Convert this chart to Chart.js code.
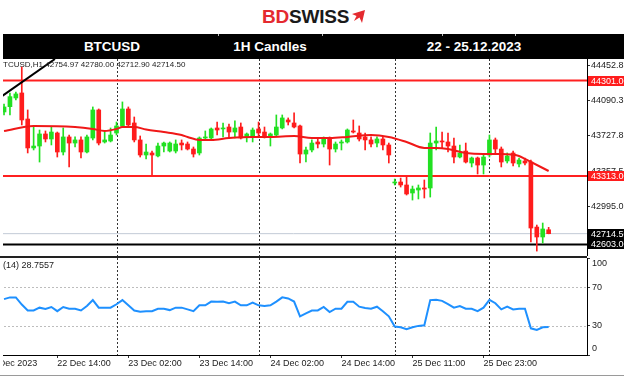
<!DOCTYPE html>
<html><head><meta charset="utf-8">
<script src="https://cdn.jsdelivr.net/npm/chart.js@4.4.1/dist/chart.umd.min.js"></script>
<style>
html,body{margin:0;padding:0;background:#fff;}
#wrap{position:relative;width:624px;height:380px;overflow:hidden;background:#fff;font-family:"Liberation Sans",Arial,sans-serif;}
.cell{position:absolute;top:34px;height:25px;line-height:25px;color:#fff;font-weight:bold;font-size:13.5px;transform:translateX(-50%);white-space:nowrap;}
.gap{position:absolute;top:34px;width:1px;height:2px;background:#bbb;}
canvas{position:absolute;left:0;}
</style></head><body>
<div id="wrap">
  <div style="position:absolute;left:262px;top:7px;font-weight:bold;font-size:19px;line-height:19px;letter-spacing:-0.2px;white-space:nowrap"><span style="color:#e42a2f">BD</span><span style="color:#1a1a1a">SWISS</span></div>
  <svg style="position:absolute;left:351px;top:10px" width="15" height="14" viewBox="0 0 15 14"><polygon points="1,4 14,0 11,13 8.5,7.5 3,11 5.5,6" fill="#e42a2f"/></svg>
  <div style="position:absolute;left:3px;top:34px;width:621px;height:25px;background:#000"></div>
  <div class="gap" style="left:218px"></div><div class="gap" style="left:322px"></div><div class="gap" style="left:442px"></div><div class="gap" style="left:515px"></div>
  <div class="cell" style="left:112px">BTCUSD</div>
  <div class="cell" style="left:270px">1H Candles</div>
  <div class="cell" style="left:474px">22 - 25.12.2023</div>
  <canvas id="main" width="624" height="197" style="top:59px"></canvas>
  <canvas id="rsi" width="624" height="124" style="top:256px"></canvas>
  <div style="position:absolute;left:0;top:375px;width:624px;height:1px;background:#9a9a9a"></div>
</div>
<script>
// ---- data ----
const barOpen = [43976,44031,44121,44173,43903,43603,43623,43748,43696,43758,
 43561,43717,43654,43686,43561,43706,43997,43665,43675,43758,
 43831,44007,43862,43686,43530,43551,43520,43623,43571,43571,
 43654,43644,43592,43551,43706,43706,43810,43800,43820,43768,
 43820,43717,43717,43800,43768,43727,43737,43810,43893,43862,
 43831,43540,43582,43665,43644,43696,43592,43654,43665,43779,
 43758,43717,43686,43654,43696,43634,43240,43250,43219,43136,
 43167,43188,43188,43654,43675,43665,43623,43509,43571,43447,
 43499,43426,43530,43686,43592,43468,43551,43437,43468,43457,
 42783,42680,42754.97];
const barHigh = [44059,44173,44183,44443,43997,43820,43789,43779,43820,43768,
 43810,43737,43717,43717,43737,44028,44007,43768,43810,43872,
 44080,44028,43924,43727,43644,43571,43654,43665,43665,43686,
 43686,43665,43613,43717,43779,43810,43872,43862,43851,43883,
 43862,43758,43810,43872,43820,43758,43945,43945,43914,43966,
 43841,43613,43686,43696,43717,43717,43665,43686,43800,43893,
 43831,43758,43717,43717,43717,43654,43281,43291,43302,43208,
 43219,43271,43758,43820,43768,43758,43706,43634,43654,43509,
 43509,43530,43737,43706,43613,43551,43571,43499,43499,43478,
 42804,42825,42780.00];
const barLow = [43945,43945,44100,43841,43551,43582,43457,43665,43634,43509,
 43530,43406,43613,43499,43551,43686,43634,43654,43665,43737,
 43820,43820,43665,43509,43488,43320,43509,43561,43561,43551,
 43582,43582,43509,43530,43686,43696,43737,43717,43717,43706,
 43696,43665,43665,43717,43706,43623,43727,43800,43841,43810,
 43447,43457,43561,43603,43613,43426,43561,43582,43654,43758,
 43675,43582,43613,43613,43582,43447,43219,43198,43115,43063,
 43074,43084,43094,43582,43603,43561,43447,43499,43447,43406,
 43333,43333,43509,43551,43406,43447,43416,43406,43426,42628,
 42534,42617,42712.90];
const barClose = [44028,44135,44163,43893,43603,43623,43748,43696,43768,43561,
 43717,43654,43686,43561,43717,43997,43654,43686,43737,43831,
 44007,43841,43686,43530,43561,43530,43623,43654,43654,43644,
 43634,43592,43540,43706,43717,43800,43789,43810,43768,43810,
 43706,43748,43789,43758,43727,43748,43820,43914,43872,43820,
 43540,43582,43654,43644,43696,43592,43644,43665,43789,43768,
 43696,43686,43644,43696,43634,43530,43250,43219,43126,43177,
 43188,43177,43654,43675,43665,43623,43509,43551,43457,43499,
 43426,43509,43686,43592,43457,43520,43447,43478,43447,42773,
 42680,42763,42714.50];
const maBars   = [0,5,12,15,17,19,20,22,24,27,30,31,33,35,38,42,45,49,52,55,58,62,65,68,71,73,75,78,81,84,87,88,92];
const maValues = [43779,43831,43820,43800,43779,43800,43820,43820,43794,43768,43737,43717,43686,43686,43706,43717,43717,43727,43706,43706,43717,43737,43717,43665,43603,43603,43592,43551,43540,43540,43520,43489,43364];
const rsiValues = [57.6,59.4,59.4,52,45.9,45.9,48.8,47.5,49.5,45.2,
 49.5,47.7,47.7,45.9,50.5,56.6,48.8,48.8,48.8,52.3,
 56.6,51.2,45.9,44.5,45,45.2,47.7,47.7,46.3,48.8,
 48.8,47,45.2,51.2,51.2,55.1,55,55.1,53.4,55.1,
 51.2,51.2,54.1,51.2,50.5,51.2,55,59.4,58.3,55.1,
 39.9,43,45.9,45.9,49.5,44.2,47.7,47.7,54.8,54.8,
 49.8,48.5,47.7,49.8,45.2,39.9,29.3,28.6,26.5,28.6,
 30,30.7,56.6,56.9,55.8,52.5,48.8,50.5,47.7,47.7,
 45.2,48.8,56.9,53.4,47.0,49.8,47.0,47.7,47.7,27.5,
 25.8,28.6,28.7557];
const tickBars   = [9,21,33,45,57,69,81];
const tickLabels = ["22 Dec 14:00","23 Dec 02:00","23 Dec 14:00","24 Dec 02:00","24 Dec 14:00","25 Dec 11:00","25 Dec 23:00"];
const firstLabelBar = -3;
const firstLabel = "22 Dec 2023";
const daySeparatorBars = [19,43,66,82];
const priceTickValues = [44452.83,44090.33,43727.83,43357.53,42995.03];
const priceTickLabels = ["44452.83","44090.33","43727.83","43357.53","42995.03"];
const levelValues = [44301.00,43313.00,42714.50,42603.00];
const levelLabels = ["44301.00","43313.00","42714.50","42603.00"];
const trendBars = [-0.7,8.6];
const trendPrices = [44125,44525];
const rsiTickValues = [100,70,30,0];
const rsiTickLabels = ["100","70","30","0"];
const rsiLevels = [70,30];
const ohlcText = "TCUSD,H1 42754.97 42780.00 42712.90 42714.50";
const rsiText = "(14) 28.7557";

// ---- styling ----
Chart.defaults.font.family = '"Liberation Sans", Arial, sans-serif';
Chart.defaults.font.size = 9;
const UP = '#22e022', DOWN = '#ff1c1c';
const X_MIN = -0.68, X_MAX = 98.48;
const FRAME_LEFT = 3;
const colorOf = i => barClose[i] >= barOpen[i] ? UP : DOWN;
const levelStyle = [
  {line:'#ff2020', w:2, box:'#ff1c1c'},
  {line:'#ff2020', w:2, box:'#ff1c1c'},
  {line:'#c2cad6', w:1, box:'#000000'},
  {line:'#000000', w:2, box:'#000000'}
];

function dotted(ctx, x1, y1, x2, y2, color) {
  ctx.save(); ctx.strokeStyle = color; ctx.lineWidth = 1; ctx.setLineDash([2,2]);
  ctx.beginPath(); ctx.moveTo(x1, y1); ctx.lineTo(x2, y2); ctx.stroke(); ctx.restore();
}
function noPad(s) { s.paddingTop = 0; s.paddingBottom = 0; s.paddingLeft = 0; s.paddingRight = 0; }

const mainPlugin = {
  id: 'mainDeco',
  beforeDatasetsDraw(chart) {
    const {ctx, chartArea: a, scales: {x}} = chart;
    daySeparatorBars.forEach(b => {
      const px = Math.round(x.getPixelForValue(b)) + 0.5;
      dotted(ctx, px, a.top, px, a.bottom, '#333');
    });
  },
  afterDraw(chart) {
    const {ctx, chartArea: a, scales: {y}} = chart;
    ctx.save();
    ctx.fillStyle = '#fff';
    ctx.fillRect(0, 0, FRAME_LEFT, chart.height);
    ctx.font = '8px "Liberation Sans", Arial, sans-serif';
    ctx.fillStyle = '#222'; ctx.textBaseline = 'middle'; ctx.textAlign = 'left';
    ctx.fillText(ohlcText, 3, 6);
    levelValues.forEach((v, k) => {
      const py = Math.round(y.getPixelForValue(v));
      ctx.fillStyle = levelStyle[k].box;
      ctx.fillRect(a.right + 1, py - 5, 40, 10);
      ctx.fillStyle = '#fff';
      ctx.font = '9px "Liberation Sans", Arial, sans-serif';
      ctx.fillText(levelLabels[k], a.right + 4, py + 0.5);
    });
    ctx.restore();
  }
};

const idx = barOpen.map((_, i) => i);
const datasets = [
  {type:'line', order:0, data: trendBars.map((b,k)=>({x:b, y:trendPrices[k]})), borderColor:'#000', borderWidth:2, pointRadius:0},
  {type:'line', order:1, data: maBars.map((b,k)=>({x:b, y:maValues[k]})), borderColor:'#f01818', borderWidth:2, pointRadius:0, cubicInterpolationMode:'monotone', spanGaps:true},
  {type:'bar', order:2, data: idx.map(i=>({x:i, y:[barOpen[i], barClose[i]]})), backgroundColor: idx.map(colorOf), barThickness:4, minBarLength:1, grouped:false, borderWidth:0},
  {type:'bar', order:3, data: idx.map(i=>({x:i, y:[barLow[i], barHigh[i]]})), backgroundColor: idx.map(colorOf), barThickness:1, grouped:false, borderWidth:0}
];
levelValues.forEach((v,k) => datasets.push({type:'line', order:5, data:[{x:X_MIN-1,y:v},{x:X_MAX+1,y:v}], borderColor:levelStyle[k].line, borderWidth:levelStyle[k].w, pointRadius:0}));

new Chart(document.getElementById('main'), {
  type:'bar',
  data:{datasets},
  options:{
    responsive:false, animation:false, events:[],
    layout:{padding:0},
    plugins:{legend:{display:false}, tooltip:{enabled:false}},
    scales:{
      x:{type:'linear', min:X_MIN, max:X_MAX, offset:false, display:false, grid:{offset:false}},
      y:{type:'linear', position:'right', min:42483, max:44525,
         afterFit(s){ s.width = 37; noPad(s); },
         afterBuildTicks(s){ s.ticks = priceTickValues.map(v=>({value:v})); },
         ticks:{callback:(v)=>priceTickLabels[priceTickValues.indexOf(v)], color:'#222', padding:1, autoSkip:false},
         grid:{drawOnChartArea:false, drawTicks:true, tickLength:3, color:'#333'},
         border:{display:true, color:'#000', width:1}}
    }
  },
  plugins:[mainPlugin]
});

const rsiPlugin = {
  id: 'rsiDeco',
  beforeDatasetsDraw(chart) {
    const {ctx, chartArea: a, scales: {x, y}} = chart;
    rsiLevels.forEach(v => {
      const py = Math.round(y.getPixelForValue(v)) + 0.5;
      dotted(ctx, a.left, py, a.right, py, '#bdbdbd');
    });
    daySeparatorBars.forEach(b => {
      const px = Math.round(x.getPixelForValue(b)) + 0.5;
      dotted(ctx, px, a.top, px, a.bottom, '#333');
    });
  },
  afterDraw(chart) {
    const {ctx, chartArea: a, scales: {x, y}} = chart;
    ctx.save();
    ctx.font = '9px "Liberation Sans", Arial, sans-serif';
    ctx.textBaseline = 'middle'; ctx.textAlign = 'left';
    ctx.fillStyle = '#222';
    ctx.fillText(firstLabel, x.getPixelForValue(firstLabelBar), a.bottom + 8.4);
    ctx.fillStyle = '#fff';
    ctx.fillRect(0, 0, FRAME_LEFT, chart.height);
    ctx.fillStyle = '#222';
    ctx.fillRect(0, 0, a.right, 2);
    ctx.fillText(rsiText, 3, 10);
    rsiTickValues.forEach((v, k) => {
      let py = y.getPixelForValue(v);
      py = Math.min(Math.max(py, a.top + 6), a.bottom - 6);
      ctx.fillText(rsiTickLabels[k], a.right + 5, py);
    });
    ctx.restore();
  }
};

new Chart(document.getElementById('rsi'), {
  type:'line',
  data:{datasets:[{data: rsiValues.map((v,i)=>({x:i, y:v})), borderColor:'#1e90ff', borderWidth:2, pointRadius:0, tension:0}]},
  options:{
    responsive:false, animation:false, events:[],
    layout:{padding:{top:2, left:0, right:0, bottom:0}},
    plugins:{legend:{display:false}, tooltip:{enabled:false}},
    scales:{
      x:{type:'linear', min:X_MIN, max:X_MAX,
         afterFit(s){ s.height = 25; noPad(s); },
         afterBuildTicks(s){ s.ticks = tickBars.map(v=>({value:v})); },
         ticks:{callback:(v)=>tickLabels[tickBars.indexOf(v)], align:'start', autoSkip:false, maxRotation:0, minRotation:0, color:'#222', padding:0},
         grid:{drawOnChartArea:false, drawTicks:true, tickLength:3, color:'#333'},
         border:{display:true, color:'#000', width:1}},
      y:{type:'linear', position:'right', min:0, max:100,
         afterFit(s){ s.width = 37; noPad(s); },
         afterBuildTicks(s){ s.ticks = rsiTickValues.map(v=>({value:v})); },
         ticks:{display:false},
         grid:{drawOnChartArea:false, drawTicks:true, tickLength:3, color:'#333'},
         border:{display:true, color:'#000', width:1}}
    }
  },
  plugins:[rsiPlugin]
});
</script>
</body></html>
